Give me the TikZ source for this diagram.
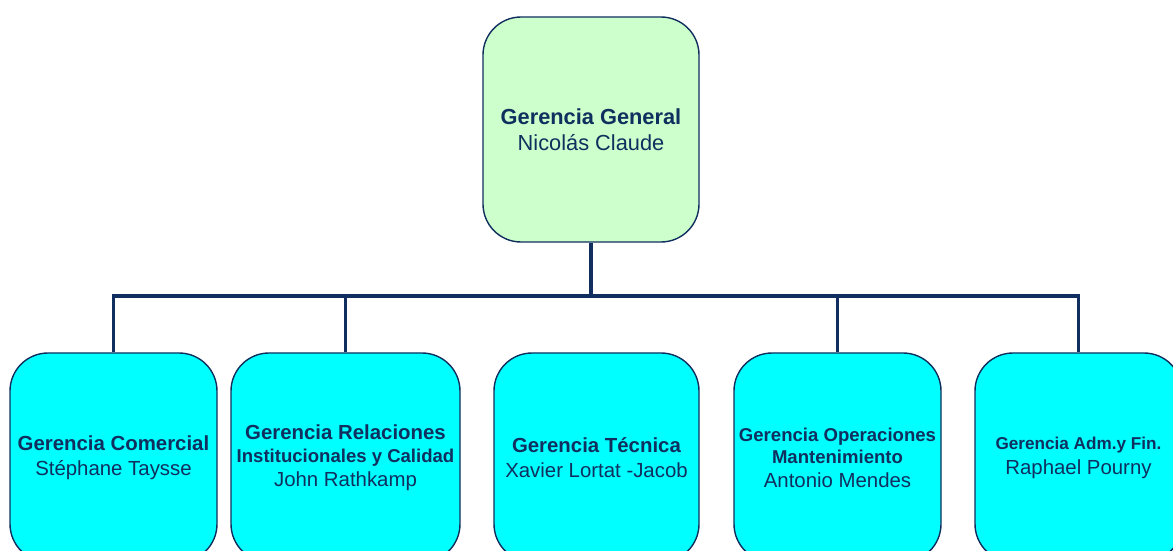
\documentclass[tikz,border=0pt]{standalone}
\usepackage{fontspec}
\setmainfont{Liberation Sans}
\usetikzlibrary{calc}
\definecolor{navy}{RGB}{16,47,94}
\definecolor{mint}{RGB}{204,255,204}
\definecolor{aqua}{RGB}{0,255,255}
\tikzset{
    box/.style={draw=navy, line width=1pt, rounded corners=0.95cm,
        text=navy, align=center, inner sep=0pt,
        minimum width=#1*0.025cm, minimum height=209*0.025cm,
        fill=aqua, font=\fontsize{14.5}{17.8}\selectfont},
    head/.style={box=216, fill=mint, minimum height=225*0.025cm,
        font=\fontsize{15.5}{18.5}\selectfont},
    link/.style={draw=navy, line width=2.8pt},
}
\newcommand{\subfont}{\fontsize{13.2}{17}\selectfont}

\begin{document}
\begin{tikzpicture}[x=0.025cm, y=-0.025cm]
    \useasboundingbox (0,0) rectangle (1173,551);

    \node[head] (gg) at (591,129.5) {\textbf{Gerencia General}\\Nicolás Claude};

    \node[box=207] (gc) at (113.5,457.5) {\textbf{Gerencia Comercial}\\Stéphane Taysse};
    \node[box=229] (gr) at (345.5,457.5) {\textbf{Gerencia Relaciones}\\[-1pt]
        {\subfont\bfseries Institucionales y Calidad}\\[-1pt]John Rathkamp};
    \node[box=205] (gt) at (596.5,457.5) {\textbf{Gerencia Técnica}\\Xavier Lortat -Jacob};
    \node[box=207] (go) at (837.5,457.5) {{\subfont\bfseries Gerencia Operaciones}\\[-2pt]
        {\subfont\bfseries Mantenimiento}\\[-1pt]Antonio Mendes};
    \node[box=207] (ga) at (1078.5,457.5) {{\fontsize{12.2}{17}\selectfont\bfseries Gerencia Adm.y Fin.}\\Raphael Pourny};

    % connectors
    \coordinate (bar) at (0,296);
    \draw[link] (gg.south) -- (gg.south |- bar);
    \draw[link] (gc.north) -- (gc.north |- bar) -- (ga.north |- bar) -- (ga.north);
    \draw[link] (gr.north) -- (gr.north |- bar);
    \draw[link] (go.north) -- (go.north |- bar);
\end{tikzpicture}
\end{document}
